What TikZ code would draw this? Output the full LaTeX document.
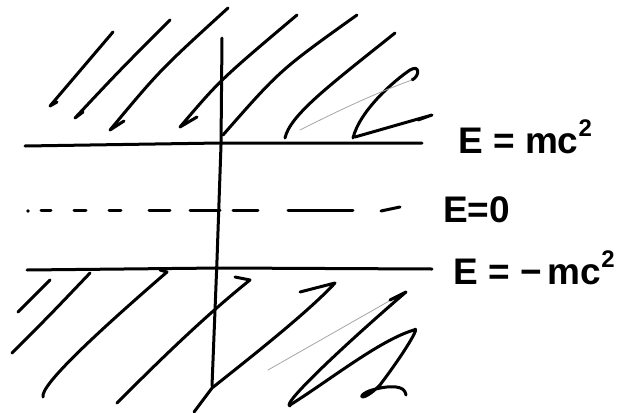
\documentclass[tikz,border=0pt]{standalone}
\usepackage{fontspec}
\setmainfont{Liberation Sans}
\begin{document}
\begin{tikzpicture}[x=1pt,y=-1pt,
  pen/.style={line width=3pt,line cap=round,line join=round},
  faint/.style={line width=0.8pt,line cap=round,gray!70},
  lbl/.style={font=\fontsize{37}{42}\selectfont\bfseries, inner sep=0pt, anchor=base west}]
\useasboundingbox[fill=white] (0,0) rectangle (633,413);
% horizontal lines
\draw[pen] (25,146) -- (220,143) -- (422,143);
\draw[pen] (27,270) -- (220,268) -- (432,269);
% vertical axis
\draw[pen] (222,38) -- (221,145) -- (217,260) -- (212,386);
% dashed line E=0
\fill (28,211) circle (1.8pt);
\foreach \a/\b in {41/51,74/86,109/121,149/170,190/220,233/258,288/353}
  \draw[pen] (\a,210) -- (\b,210);
\draw[pen] (381,211) -- (400,207);
% upper hatching
\draw[pen] (113,32) -- (50,106) -- (57,102);
\draw[pen] (170,20) .. controls (120,70) .. (75,118) -- (83,112);
\draw[pen] (228,8) .. controls (160,70) .. (110,130) -- (124,121);
\draw[pen] (297,15) .. controls (220,80) .. (180,127) -- (197,117);
\draw[pen] (357,15) .. controls (280,70) .. (223,135);
\draw[pen] (395,33) .. controls (330,85) and (290,115) .. (285,138);
\draw[pen] (353,138) .. controls (360,110) and (395,80) .. (410,70) .. controls (420,64) and (420,76) .. (412,80);
\draw[faint] (412,80) .. controls (370,95) and (330,115) .. (300,130);
\draw[pen] (355,137) -- (432,115) -- (418,120);
% lower hatching
\draw[pen] (18,312) -- (50,280);
\draw[pen] (12,353) .. controls (50,315) .. (90,273);
\draw[pen] (43,397) .. controls (40,385) and (100,330) .. (167,272) -- (160,270);
\draw[pen] (117,403) .. controls (150,370) and (200,320) .. (250,280) -- (235,277);
\draw[pen] (194,412) -- (212,388) .. controls (260,350) and (310,310) .. (335,283) -- (300,292);
\draw[faint] (268,370) -- (405,292);
\draw[pen] (290,406) .. controls (280,405) and (350,340) .. (406,292) -- (390,300);
\draw[pen] (290,405) .. controls (330,380) and (380,340) .. (414,330) .. controls (420,325) and (410,345) .. (380,385) .. controls (360,405) and (355,395) .. (372,390) .. controls (390,385) and (405,385) .. (406,395);
% labels
\node[lbl] (e1) at (458,153) {E\;=\;mc\raisebox{0.45em}{\fontsize{24}{26}\selectfont 2}};
\node[lbl] (e0) at (443,222) {E=0};
\node[lbl] (e2) at (453,284) {E\;=\;−\,mc\raisebox{0.45em}{\fontsize{24}{26}\selectfont 2}};
\end{tikzpicture}
\end{document}
